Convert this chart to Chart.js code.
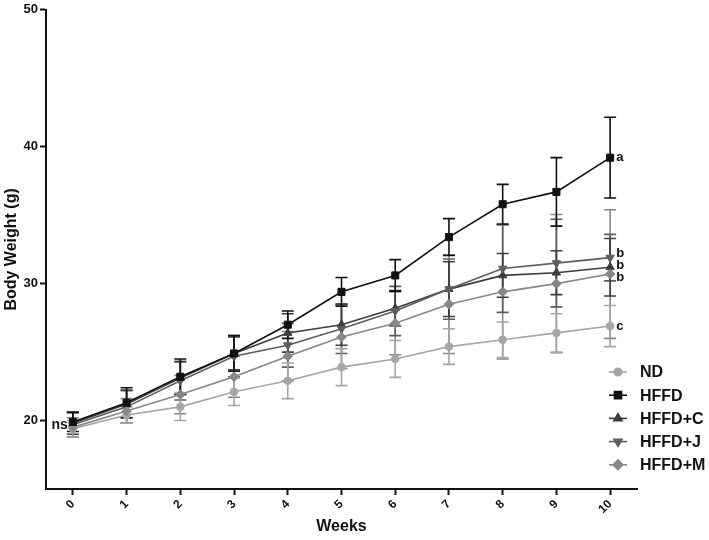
<!DOCTYPE html>
<html lang="en">
<head>
    <meta charset="UTF-8">
    <title>Body Weight</title>
    <style>
        html, body {
            margin: 0;
            padding: 0;
            background: #fff;
        }
        .wrap {
            position: relative;
            width: 709px;
            height: 540px;
        }
    </style>
</head>
<body>
    <div class="wrap">
        <canvas id="weightChart"></canvas>
    </div>

    <script src="https://cdn.jsdelivr.net/npm/chart.js"></script>
    <script>
        // Data (mean and SEM per week)
        const weeks = [0, 1, 2, 3, 4, 5, 6, 7, 8, 9, 10];
        const groupNames = ['ND', 'HFFD', 'HFFD+C', 'HFFD+J', 'HFFD+M'];

        const ndMean = [19.4, 20.4, 21.0, 22.1, 22.9, 23.9, 24.5, 25.4, 25.9, 26.4, 26.9];
        const ndErr = [0.6, 0.6, 1.0, 1.0, 1.3, 1.35, 1.35, 1.3, 1.3, 1.4, 1.5];

        const hffdMean = [19.9, 21.3, 23.2, 24.9, 27.0, 29.4, 30.6, 33.4, 35.8, 36.7, 39.2];
        const hffdErr = [0.7, 1.1, 1.3, 1.3, 1.0, 1.05, 1.15, 1.35, 1.45, 2.5, 2.95];

        const hffdCMean = [19.8, 21.2, 23.1, 24.9, 26.4, 27.0, 28.2, 29.6, 30.6, 30.8, 31.2];
        const hffdCErr = [0.8, 1.0, 1.2, 1.2, 1.4, 1.5, 1.3, 2.0, 1.6, 1.6, 2.1];

        const hffdJMean = [19.7, 21.0, 22.9, 24.7, 25.5, 26.7, 28.0, 29.6, 31.1, 31.5, 31.9];
        const hffdJErr = [0.9, 1.2, 1.4, 1.5, 1.6, 1.8, 1.8, 2.2, 3.2, 3.2, 1.7];

        const hffdMMean = [19.5, 20.7, 21.9, 23.2, 24.7, 26.1, 27.1, 28.5, 29.4, 30.0, 30.7];
        const hffdMErr = [0.7, 0.9, 1.4, 1.5, 1.8, 2.3, 2.3, 3.6, 4.9, 5.05, 4.7];

        const yTicks = [20, 30, 40, 50];
        const endLetters = ['c', 'a', 'b', 'b', 'b'];

        const FONT = "'Liberation Sans', Arial, sans-serif";
        Chart.defaults.font.family = FONT;
        Chart.defaults.color = '#111';

        const colors = ['#a6a6a6', '#111111', '#3d3d3d', '#5e5e5e', '#878787'];
        const shapes = ['circle', 'rect', 'triangle', 'triangle', 'rectRot'];
        const rotations = [0, 0, 0, 180, 0];
        const radii = [3.8, 5, 4.8, 4.8, 4.8];
        const means = [ndMean, hffdMean, hffdCMean, hffdJMean, hffdMMean];
        const errs = [ndErr, hffdErr, hffdCErr, hffdJErr, hffdMErr];

        const datasets = groupNames.map((name, i) => ({
            label: name,
            data: weeks.map((w, k) => ({ x: w, y: means[i][k] })),
            errors: errs[i],
            borderColor: colors[i],
            backgroundColor: colors[i],
            pointBackgroundColor: colors[i],
            pointBorderColor: colors[i],
            borderWidth: 1.6,
            pointStyle: shapes[i],
            pointRotation: rotations[i],
            pointRadius: radii[i],
            pointBorderWidth: 1,
            order: name === 'HFFD' ? 0 : 1 + (4 - i)
        }));

        // error bars drawn with the chart's own scales
        const errorBars = {
            id: 'errorBars',
            beforeDatasetsDraw(chart) {
                const ctx = chart.ctx;
                const xs = chart.scales.x, ys = chart.scales.y;
                const drawOrder = [4, 3, 2, 0, 1];
                ctx.save();
                drawOrder.forEach(i => {
                    const ds = chart.data.datasets[i];
                    ctx.strokeStyle = ds.borderColor;
                    ctx.lineWidth = 1.6;
                    ds.data.forEach((p, k) => {
                        const px = xs.getPixelForValue(p.x);
                        const top = ys.getPixelForValue(p.y + ds.errors[k]);
                        const bot = ys.getPixelForValue(p.y - ds.errors[k]);
                        ctx.beginPath();
                        ctx.moveTo(px, top);
                        ctx.lineTo(px, bot);
                        ctx.moveTo(px - 6, top);
                        ctx.lineTo(px + 6, top);
                        ctx.moveTo(px - 6, bot);
                        ctx.lineTo(px + 6, bot);
                        ctx.stroke();
                    });
                });
                ctx.restore();
            }
        };

        // significance letters and custom legend
        const annotations = {
            id: 'annotations',
            afterDraw(chart) {
                const ctx = chart.ctx;
                const xs = chart.scales.x, ys = chart.scales.y;
                const area = chart.chartArea;
                const nudge = [0, 0, -2, -4, 3];
                ctx.save();
                ctx.fillStyle = '#111';
                ctx.font = 'bold 13px ' + FONT;
                ctx.textBaseline = 'middle';
                ctx.textAlign = 'left';
                const lastX = xs.getPixelForValue(weeks[weeks.length - 1]) + 6;
                means.forEach((m, i) => {
                    ctx.fillText(endLetters[i], lastX, ys.getPixelForValue(m[m.length - 1]) + nudge[i]);
                });
                ctx.font = 'bold 14px ' + FONT;
                ctx.textAlign = 'right';
                ctx.fillText('ns', xs.getPixelForValue(0) - 5, ys.getPixelForValue(19.7));

                // legend
                const lx = area.right - 19;
                let ly = area.bottom - 117;
                ctx.font = 'bold 16px ' + FONT;
                ctx.textAlign = 'left';
                chart.data.datasets.forEach((ds, i) => {
                    ctx.strokeStyle = ds.borderColor;
                    ctx.lineWidth = 1.6;
                    ctx.beginPath();
                    ctx.moveTo(lx - 9, ly);
                    ctx.lineTo(lx + 9, ly);
                    ctx.stroke();
                    ctx.fillStyle = ds.borderColor;
                    Chart.helpers.drawPoint(ctx, {
                        pointStyle: ds.pointStyle,
                        rotation: ds.pointRotation,
                        radius: ds.pointRadius,
                        borderWidth: 1
                    }, lx, ly);
                    ctx.fillStyle = '#111';
                    ctx.fillText(ds.label, lx + 22, ly + 1);
                    ly += 23.2;
                });
                ctx.restore();
            }
        };

        const ctx = document.getElementById('weightChart').getContext('2d');
        new Chart(ctx, {
            type: 'line',
            data: { datasets: datasets },
            plugins: [errorBars, annotations],
            options: {
                responsive: true,
                maintainAspectRatio: false,
                animation: false,
                devicePixelRatio: 1,
                layout: { padding: { top: 0, right: 72, left: 0, bottom: 0 } },
                plugins: {
                    legend: { display: false },
                    tooltip: { enabled: false }
                },
                scales: {
                    x: {
                        type: 'linear',
                        min: -0.5,
                        max: 10.5,
                        afterBuildTicks: s => { s.ticks = weeks.map(v => ({ value: v })); },
                        afterFit: s => { s.height = 51; },
                        ticks: {
                            minRotation: 45,
                            maxRotation: 45,
                            padding: 2,
                            color: '#111',
                            font: { size: 12, weight: 'bold' }
                        },
                        grid: {
                            drawOnChartArea: false,
                            tickLength: 6,
                            tickWidth: 2,
                            color: '#111'
                        },
                        border: { display: true, color: '#111', width: 2 },
                        title: {
                            display: true,
                            text: 'Weeks',
                            color: '#111',
                            font: { size: 16, weight: 'bold' },
                            padding: { top: 0, bottom: 4 }
                        }
                    },
                    y: {
                        min: 15,
                        max: 50,
                        afterBuildTicks: s => { s.ticks = yTicks.map(v => ({ value: v })); },
                        afterFit: s => { s.width = 46; },
                        ticks: {
                            padding: 2,
                            color: '#111',
                            font: { size: 13, weight: 'bold' }
                        },
                        grid: {
                            drawOnChartArea: false,
                            tickLength: 6,
                            tickWidth: 2,
                            color: '#111'
                        },
                        border: { display: true, color: '#111', width: 2 },
                        title: {
                            display: true,
                            text: 'Body Weight (g)',
                            color: '#111',
                            font: { size: 16, weight: 'bold' },
                            padding: { top: 2, bottom: 2 }
                        }
                    }
                }
            }
        });
    </script>
</body>
</html>
